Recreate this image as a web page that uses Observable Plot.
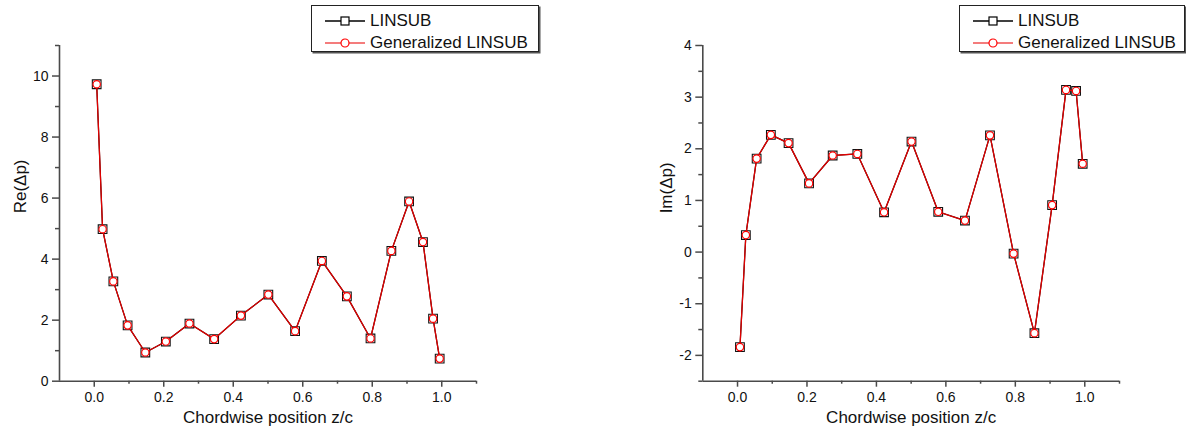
<!DOCTYPE html>
<html>
<head>
<meta charset="utf-8">
<script src="https://cdn.jsdelivr.net/npm/d3@7"></script>
<script src="https://cdn.jsdelivr.net/npm/@observablehq/plot@0.6"></script>
<style>
  html, body { margin: 0; padding: 0; background: #fff; }
  #wrap { position: relative; width: 1186px; height: 435px; overflow: hidden; font-family: "Liberation Sans", Arial, sans-serif; }
  .plot { position: absolute; top: 0; }
  .legend { position: absolute; border: 1px solid #222; box-shadow: 1.5px 1.5px 0 #555; background: #fff; box-sizing: border-box; }
  .row { position: absolute; display: flex; align-items: center; height: 20px; font-size: 17px; color: #111; white-space: nowrap; }
  .row svg { margin-right: 5px; }
</style>
</head>
<body>
<div id="wrap"></div>
<script>
// ---- data ----
const xPos = [0.007, 0.024, 0.055, 0.096, 0.147, 0.206, 0.274, 0.345, 0.422, 0.501, 0.578, 0.655, 0.727, 0.795, 0.855, 0.906, 0.946, 0.975, 0.994];
const reLinsub = [9.73, 4.98, 3.27, 1.83, 0.94, 1.30, 1.89, 1.38, 2.15, 2.84, 1.64, 3.94, 2.78, 1.40, 4.27, 5.89, 4.56, 2.05, 0.74];
const reGeneralized = [9.73, 4.98, 3.27, 1.83, 0.94, 1.30, 1.89, 1.38, 2.15, 2.84, 1.64, 3.94, 2.78, 1.40, 4.27, 5.89, 4.56, 2.05, 0.74];
const imLinsub = [-1.84, 0.33, 1.81, 2.27, 2.11, 1.33, 1.87, 1.90, 0.77, 2.14, 0.78, 0.61, 2.26, -0.03, -1.57, 0.91, 3.14, 3.12, 1.71];
const imGeneralized = [-1.84, 0.33, 1.81, 2.27, 2.11, 1.33, 1.87, 1.90, 0.77, 2.14, 0.78, 0.61, 2.26, -0.03, -1.57, 0.91, 3.14, 3.12, 1.71];
const seriesNames = ["LINSUB", "Generalized LINSUB"];
const xLabel = "Chordwise position z/c";
const xMajor = [0, 0.2, 0.4, 0.6, 0.8, 1.0];
const xMinor = [0.1, 0.3, 0.5, 0.7, 0.9, 1.1];
const reMajor = [0, 2, 4, 6, 8, 10];
const reMinor = [1, 3, 5, 7, 9, 11];
const imMajor = [-2, -1, 0, 1, 2, 3, 4];
const imMinor = [-2.5, -1.5, -0.5, 0.5, 1.5, 2.5, 3.5];

const axisColor = "#4a4a4a";
const wrap = document.getElementById("wrap");

function makePlot(cfg) {
  const a = xPos.map((x, i) => ({x, y: cfg.s1[i]}));
  const b = xPos.map((x, i) => ({x, y: cfg.s2[i]}));
  const p = Plot.plot({
    width: 593, height: 435,
    marginLeft: cfg.ml, marginRight: cfg.mr, marginTop: 45, marginBottom: 54.3,
    style: {fontFamily: '"Liberation Sans", Arial, sans-serif', fontSize: "14px", color: "#111", background: "transparent", overflow: "visible"},
    x: {domain: [-0.1, 1.1]},
    y: {domain: cfg.ydom},
    marks: [
      Plot.ruleX([-0.1], {stroke: axisColor, strokeWidth: 1.6}),
      Plot.ruleY([cfg.ydom[0]], {stroke: axisColor, strokeWidth: 1.6}),
      Plot.axisX({ticks: xMajor, tickSize: 6, tickPadding: 5, tickFormat: d => d.toFixed(1), label: null, stroke: axisColor, strokeWidth: 1.5, fill: "#111", fontSize: 14}),
      Plot.axisX({ticks: xMinor, tickSize: 3, tickFormat: () => "", label: null, stroke: axisColor, strokeWidth: 1.5}),
      Plot.axisY({ticks: cfg.major, tickSize: 7, tickPadding: 4, tickFormat: d => String(d), label: null, stroke: axisColor, strokeWidth: 1.5, fill: "#111", fontSize: 14}),
      Plot.axisY({ticks: cfg.minor, tickSize: 4, tickFormat: () => "", label: null, stroke: axisColor, strokeWidth: 1.5}),
      Plot.text([xLabel], {frameAnchor: "bottom", dy: 42, fontSize: 17, fill: "#111"}),
      Plot.text([cfg.ylabel], {frameAnchor: "left", dx: cfg.ydx, rotate: -90, fontSize: 17, fill: "#111"}),
      Plot.line(a, {x: "x", y: "y", stroke: "#000", strokeWidth: 1.2}),
      Plot.dot(a, {x: "x", y: "y", symbol: "square", r: 4.9, stroke: "#111", strokeWidth: 1.1, fill: "#fff"}),
      Plot.line(b, {x: "x", y: "y", stroke: "#e00000", strokeWidth: 1.3}),
      Plot.dot(b, {x: "x", y: "y", symbol: "circle", r: 3.7, stroke: "#ff0000", strokeWidth: 1.2, fill: "#fff"})
    ]
  });
  p.classList.add("plot");
  p.style.left = cfg.left + "px";
  wrap.appendChild(p);
}

makePlot({left: 0, ml: 59, mr: 117, ydom: [0, 11], major: reMajor, minor: reMinor, s1: reLinsub, s2: reGeneralized, ylabel: "Re(Δp)", ydx: -39});
makePlot({left: 593, ml: 109.3, mr: 67, ydom: [-2.5, 4], major: imMajor, minor: imMinor, s1: imLinsub, s2: imGeneralized, ylabel: "Im(Δp)", ydx: -36});

function iconSvg(kind) {
  const ns = "http://www.w3.org/2000/svg";
  const svg = document.createElementNS(ns, "svg");
  svg.setAttribute("width", 40); svg.setAttribute("height", 12);
  const line = document.createElementNS(ns, "line");
  line.setAttribute("x1", 0); line.setAttribute("x2", 40); line.setAttribute("y1", 6); line.setAttribute("y2", 6);
  line.setAttribute("stroke", kind === 0 ? "#000" : "#f05050"); line.setAttribute("stroke-width", 1.3);
  svg.appendChild(line);
  let sym;
  if (kind === 0) {
    sym = document.createElementNS(ns, "rect");
    sym.setAttribute("x", 16); sym.setAttribute("y", 2); sym.setAttribute("width", 8); sym.setAttribute("height", 8);
    sym.setAttribute("stroke", "#000");
  } else {
    sym = document.createElementNS(ns, "circle");
    sym.setAttribute("cx", 20); sym.setAttribute("cy", 6); sym.setAttribute("r", 4);
    sym.setAttribute("stroke", "#ff0000");
  }
  sym.setAttribute("fill", "#fff"); sym.setAttribute("stroke-width", 1.2);
  svg.appendChild(sym);
  return svg;
}

function makeLegend(left, width) {
  const lg = document.createElement("div");
  lg.className = "legend";
  lg.style.left = left + "px"; lg.style.top = "5px";
  lg.style.width = width + "px"; lg.style.height = "47px";
  seriesNames.forEach((name, i) => {
    const row = document.createElement("div");
    row.className = "row";
    row.style.left = "13px";
    row.style.top = (i === 0 ? 5 : 27) + "px";
    row.appendChild(iconSvg(i));
    const t = document.createElement("span");
    t.textContent = name;
    row.appendChild(t);
    lg.appendChild(row);
  });
  wrap.appendChild(lg);
}
makeLegend(311, 228);
makeLegend(959, 226);
</script>
</body>
</html>
